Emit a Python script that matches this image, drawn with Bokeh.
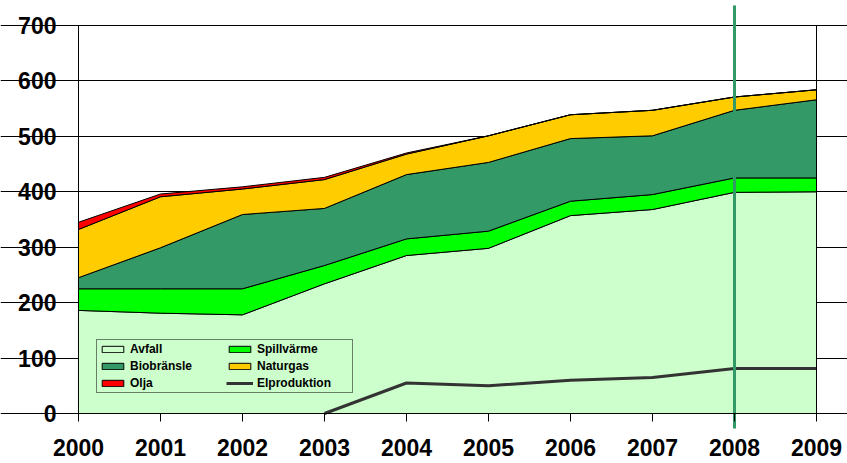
import numpy as np
from bokeh.plotting import figure
from bokeh.models import Range1d, FixedTicker, Legend, LegendItem, LinearAxis
from bokeh.embed import file_html
from bokeh.resources import INLINE

# ---- data ----
years = [2000, 2001, 2002, 2003, 2004, 2005, 2006, 2007, 2008, 2009]
avfall = [186, 181, 178, 234, 285, 298, 357, 368, 399, 400]
spillvarme = [39, 44, 47, 33, 30, 31, 26, 27, 26, 25]
biobransle = [20, 74, 134, 103, 116, 124, 113, 106, 122, 141]
naturgas = [87, 92, 46, 52, 37, 48, 43, 46, 24, 18]
olja = [13, 5, 4, 4, 2, 0, 0, 0, 0, 0]
elproduktion = [np.nan, np.nan, np.nan, 0, 55, 50, 60, 65, 81, 81]
y_ticks = [0, 100, 200, 300, 400, 500, 600, 700]
marker_year = 2008

series_names = ["Avfall", "Spillvärme", "Biobränsle", "Naturgas", "Olja"]
series_values = [avfall, spillvarme, biobransle, naturgas, olja]
series_colors = ["#CCFFCC", "#00FF00", "#339966", "#FFCC00", "#FF0000"]

FONT = "Liberation Sans"
X_MIN, X_MAX = years[0], years[-1]
Y_MIN, Y_MAX = 0, 700

# the frame covers the whole canvas; axes are pinned to the value range
p = figure(width=847, height=463,
           x_range=Range1d(1999.049, 2009.378), y_range=Range1d(-90.2, 745.1),
           output_backend="svg", toolbar_location=None,
           min_border_left=0, min_border_right=0,
           min_border_top=0, min_border_bottom=0)
p.background_fill_color = "white"
p.border_fill_color = "white"
p.outline_line_color = None

p.xgrid.visible = False
p.ygrid.grid_line_color = "black"
p.ygrid.grid_line_width = 1
p.ygrid.bounds = (X_MIN, X_MAX)

# stacked areas
renderers = {}
bottom = np.zeros(len(years))
for name, vals, col in zip(series_names, series_values, series_colors):
    top = bottom + np.array(vals, dtype=float)
    xs = list(years) + list(years[::-1])
    ys = list(top) + list(bottom[::-1])
    r = p.patch(xs, ys, fill_color=col, line_color="black", line_width=1)
    renderers[name] = r
    bottom = top

r_el = p.line(years, elproduktion, line_color="#333333", line_width=3)
renderers["Elproduktion"] = r_el

# 2008 marker line (extends a little beyond the value range, as in the original)
p.segment(x0=[marker_year], y0=[-27], x1=[marker_year], y1=[736],
          line_color="#339966", line_width=3)

# axes
p.yaxis.fixed_location = X_MIN
p.yaxis.bounds = (Y_MIN, Y_MAX)
p.yaxis.ticker = FixedTicker(ticks=y_ticks)
p.yaxis.minor_tick_line_color = None
p.yaxis.major_tick_in = 0
p.yaxis.major_tick_out = 10
p.yaxis.major_label_standoff = 12
p.yaxis.axis_line_color = "black"
p.yaxis.major_tick_line_color = "black"
p.yaxis.major_label_text_font = FONT
p.yaxis.major_label_text_font_style = "bold"
p.yaxis.major_label_text_font_size = "23px"
p.yaxis.major_label_text_color = "black"

p.xaxis.fixed_location = Y_MIN
p.xaxis.bounds = (X_MIN, X_MAX)
p.xaxis.ticker = FixedTicker(ticks=years)
p.xaxis.minor_tick_line_color = None
p.xaxis.major_tick_in = 0
p.xaxis.major_tick_out = 8
p.xaxis.major_label_standoff = 17
p.xaxis.axis_line_color = "black"
p.xaxis.major_tick_line_color = "black"
p.xaxis.major_label_text_font = FONT
p.xaxis.major_label_text_font_style = "bold"
p.xaxis.major_label_text_font_size = "23px"
p.xaxis.major_label_text_color = "black"

right_axis = LinearAxis(fixed_location=X_MAX, bounds=(Y_MIN, Y_MAX),
                        ticker=FixedTicker(ticks=[]),
                        major_tick_line_color=None, minor_tick_line_color=None,
                        major_label_text_font_size="0px", axis_line_color="black")
p.add_layout(right_axis, "right")

legend_order = ["Avfall", "Spillvärme", "Biobränsle", "Naturgas", "Olja", "Elproduktion"]
legend = Legend(items=[LegendItem(label=n, renderers=[renderers[n]]) for n in legend_order],
                location=(96, 70), orientation="horizontal", ncols=2,
                glyph_width=27, glyph_height=8, label_standoff=4,
                label_height=11, label_width=93, spacing=3, padding=2, margin=0,
                label_text_font=FONT, label_text_font_style="bold",
                label_text_font_size="12px", label_text_color="black",
                background_fill_color="#CCFFCC", background_fill_alpha=1,
                border_line_color="black", border_line_width=1)
p.add_layout(legend)

open("out.html", "w").write(file_html(p, INLINE))
